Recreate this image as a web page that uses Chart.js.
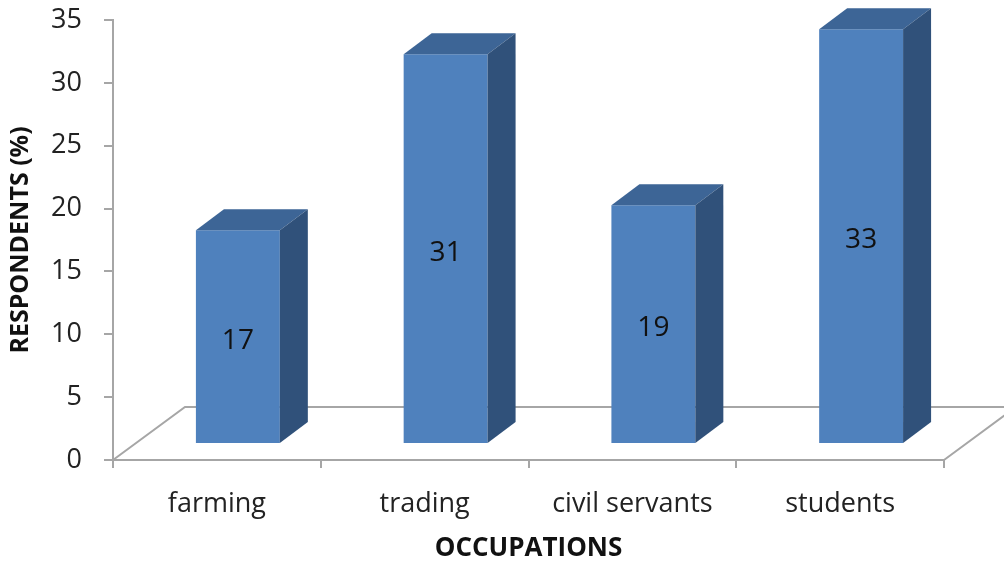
<!DOCTYPE html>
<html>
<head>
<meta charset="utf-8">
<script src="https://cdn.jsdelivr.net/npm/chart.js@4.4.0/dist/chart.umd.min.js"></script>
<style>
  html, body { margin: 0; padding: 0; background: #fff; }
  #chart { display: block; }
</style>
</head>
<body>
<canvas id="chart" width="1004" height="564"></canvas>
<script>
const occupations = ['farming', 'trading', 'civil servants', 'students'];
const respondents = [17, 31, 19, 33];
const yTicks = [0, 5, 10, 15, 20, 25, 30, 35];

const FONT = "'Open Sans', sans-serif";
const AXIS_GREY = '#a6a6a6';

// floor depth, box depth and how far the boxes sit back from the front edge
const floorDepth = { dx: 72, dy: -53 };
const barDepth = { dx: 28, dy: -21 };
const barShift = { dx: 21, dy: -16 };

const box3d = {
  id: 'box3d',
  beforeDatasetsDraw(chart) {
    const { ctx, chartArea } = chart;
    const y0 = chart.scales.y.getPixelForValue(0);
    ctx.save();
    ctx.strokeStyle = AXIS_GREY;
    ctx.lineWidth = 2;
    ctx.beginPath();
    ctx.moveTo(chartArea.left, y0);
    ctx.lineTo(chartArea.left + floorDepth.dx, y0 + floorDepth.dy);
    ctx.lineTo(chartArea.right + floorDepth.dx, y0 + floorDepth.dy);
    ctx.lineTo(chartArea.right, y0);
    ctx.stroke();
    ctx.restore();

    ctx.save();
    ctx.translate(barShift.dx, barShift.dy);
  },
  afterDatasetsDraw(chart) {
    const { ctx } = chart;
    const { dx, dy } = barDepth;
    chart.getDatasetMeta(0).data.forEach((bar, i) => {
      const l = bar.x - bar.width / 2;
      const r = bar.x + bar.width / 2;
      const t = bar.y;
      const b = bar.base;

      ctx.fillStyle = '#3d6596';
      ctx.beginPath();
      ctx.moveTo(l, t);
      ctx.lineTo(l + dx, t + dy);
      ctx.lineTo(r + dx, t + dy);
      ctx.lineTo(r, t);
      ctx.closePath();
      ctx.fill();

      ctx.fillStyle = '#30517a';
      ctx.beginPath();
      ctx.moveTo(r, t);
      ctx.lineTo(r + dx, t + dy);
      ctx.lineTo(r + dx, b + dy);
      ctx.lineTo(r, b);
      ctx.closePath();
      ctx.fill();

      ctx.fillStyle = '#111';
      ctx.font = `28px ${FONT}`;
      ctx.textAlign = 'center';
      ctx.textBaseline = 'middle';
      ctx.fillText(respondents[i], bar.x, (t + b) / 2 + 4);
    });
    ctx.restore();
  }
};

new Chart(document.getElementById('chart'), {
  type: 'bar',
  data: {
    labels: occupations,
    datasets: [{
      data: respondents,
      backgroundColor: '#4f81bd',
      categoryPercentage: 1,
      barPercentage: 0.404,
      clip: false
    }]
  },
  options: {
    responsive: false,
    animation: false,
    layout: { padding: { top: 20, right: 60, left: 0, bottom: 0 } },
    plugins: {
      legend: { display: false },
      tooltip: { enabled: false }
    },
    scales: {
      x: {
        grid: { drawOnChartArea: false, tickLength: 8, color: AXIS_GREY, lineWidth: 2 },
        border: { color: AXIS_GREY, width: 2 },
        ticks: { padding: 20, color: '#222', font: { family: FONT, size: 27 } },
        title: {
          display: true,
          text: 'OCCUPATIONS',
          color: '#111',
          font: { family: FONT, size: 26, weight: 'bold' },
          padding: { top: 0, bottom: 0 }
        },
        afterFit(scale) { scale.height = 104; }
      },
      y: {
        min: 0,
        max: 35,
        afterBuildTicks(scale) { scale.ticks = yTicks.map(v => ({ value: v })); },
        grid: { drawOnChartArea: false, tickLength: 9, color: AXIS_GREY, lineWidth: 2 },
        border: { color: AXIS_GREY, width: 2 },
        ticks: { padding: 22, color: '#222', font: { family: FONT, size: 27 } },
        title: {
          display: true,
          text: 'RESPONDENTS (%)',
          color: '#111',
          font: { family: FONT, size: 25, weight: 'bold' },
          padding: { top: 6, bottom: 0 }
        },
        afterFit(scale) {
          scale.width = 113;
          scale.paddingTop = 0;
          scale.paddingBottom = 0;
        }
      }
    }
  },
  plugins: [box3d]
});
</script>
</body>
</html>
